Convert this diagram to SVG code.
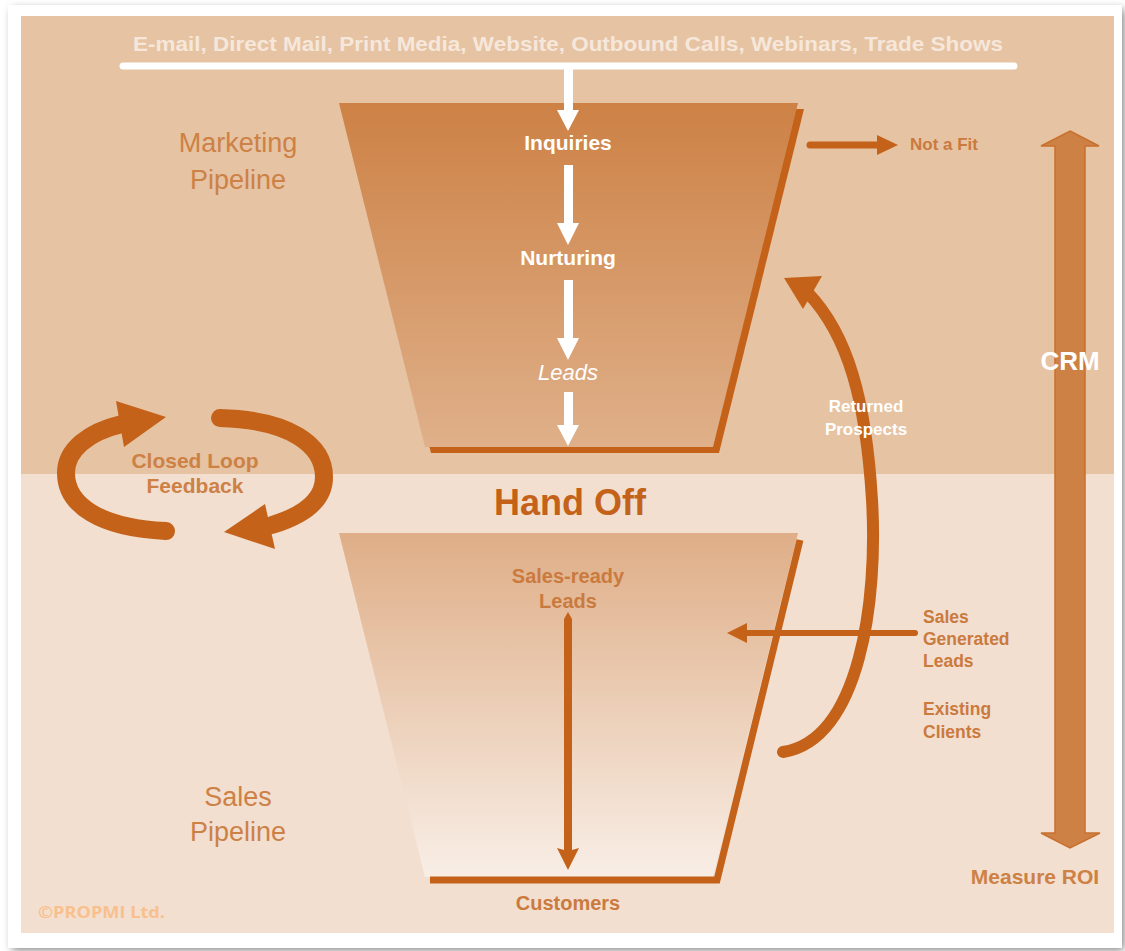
<svg xmlns="http://www.w3.org/2000/svg" width="1125" height="951" viewBox="0 0 1125 951">
  <defs>
    <linearGradient id="gTop" x1="0" y1="0" x2="0" y2="1">
      <stop offset="0" stop-color="#CD8145"/>
      <stop offset="1" stop-color="#DFB08A"/>
    </linearGradient>
    <linearGradient id="gBot" x1="0" y1="0" x2="0" y2="1">
      <stop offset="0" stop-color="#DFAE87"/>
      <stop offset="1" stop-color="#F8EEE6"/>
    </linearGradient>
    <filter id="sh" x="-5%" y="-5%" width="110%" height="110%">
      <feGaussianBlur stdDeviation="4"/>
    </filter>
    <style>
      .b { font-family: "Liberation Sans", Arial, sans-serif; font-weight: bold; }
      .r { font-family: "Liberation Sans", Arial, sans-serif; }
      .w { fill: #FFFFFF; }
      .o { fill: #CB7A3E; }
      .dk { fill: #C4621A; }
      .ln { stroke: #C4621A; fill: none; }
    </style>
  </defs>

  <!-- page -->
  <rect x="0" y="0" width="1125" height="951" fill="#FFFFFF"/>
  <rect x="12" y="9" width="1112" height="941" fill="#808080" filter="url(#sh)"/>
  <rect x="8" y="5" width="1114" height="943" fill="#FFFFFF"/>
  <rect x="21" y="16" width="1093" height="458" fill="#E6C3A3"/>
  <rect x="21" y="474" width="1093" height="459" fill="#F2DFD0"/>

  <!-- source channels -->
  <g id="sources">
    <text class="r" x="568" y="51" text-anchor="middle" font-size="21" fill="#F6E7DB" textLength="870" lengthAdjust="spacingAndGlyphs" style="font-weight:600">E-mail, Direct Mail, Print Media, Website, Outbound Calls, Webinars, Trade Shows</text>
    <line x1="123" y1="66" x2="1014" y2="66" stroke="#FFFFFF" stroke-width="7" stroke-linecap="round"/>
  </g>

  <!-- marketing funnel -->
  <g id="marketing-funnel">
    <polygon points="345,109 804,109 719,453 431,453" fill="#C4621A"/>
    <polygon points="339,103 798,103 713,447 425,447" fill="url(#gTop)"/>
    <text class="b w" x="568" y="150" text-anchor="middle" font-size="21">Inquiries</text>
    <text class="b w" x="568" y="265" text-anchor="middle" font-size="21">Nurturing</text>
    <text class="r w" x="568" y="380" text-anchor="middle" font-size="22" font-style="italic">Leads</text>
  </g>

  <g id="sales-funnel">
    <polygon points="339,533 798,533 713,877 425,877" fill="url(#gBot)"/>
    <polyline points="800,540 717,880 430,880" class="ln" stroke-width="7"/>
    <text class="b o" x="568" y="583" text-anchor="middle" font-size="20">Sales-ready</text>
    <text class="b o" x="568" y="608" text-anchor="middle" font-size="20">Leads</text>
    <text class="b o" x="568" y="910" text-anchor="middle" font-size="20">Customers</text>
  </g>

  <!-- connectors -->
  <g id="connectors">
    <!-- white flow arrows -->
    <g fill="#FFFFFF">
      <rect x="564" y="66" width="9" height="46"/>
      <polygon points="557,110 579,110 568,131"/>
      <rect x="564" y="165" width="9" height="60"/>
      <polygon points="557,223 579,223 568,245"/>
      <rect x="564" y="280" width="9" height="60"/>
      <polygon points="557,338 579,338 568,360"/>
      <rect x="564" y="392" width="9" height="35"/>
      <polygon points="557,425 579,425 568,446"/>
    </g>
    <!-- sales-ready to customers -->
    <polygon points="568,612 572,619 572,850 579,848 568,870 557,848 564,850 564,619" fill="#C4621A"/>
    <!-- not a fit -->
    <line x1="810" y1="145" x2="880" y2="145" class="ln" stroke-width="7" stroke-linecap="round"/>
    <polygon points="877,135 898,145 877,155" fill="#C4621A"/>
    <!-- sales generated leads -->
    <line x1="744" y1="633" x2="915" y2="633" class="ln" stroke-width="6" stroke-linecap="round"/>
    <polygon points="727,633 747,623 747,643" fill="#C4621A"/>
    <!-- returned prospects -->
    <path d="M 783,752 C 860,740 878,600 872,500 C 866,400 848,335 808,293" class="ln" stroke-width="12" stroke-linecap="round"/>
    <polygon points="784,278 822,276 803,309" fill="#C4621A"/>
    <!-- closed loop -->
    <path d="M 166,531 C 100,528 66,505 66,473 C 66,450 88,432 122,424" class="ln" stroke-width="18" stroke-linecap="round"/>
    <polygon points="116,401 124,447 166,417" fill="#C4621A"/>
    <path d="M 220,418 C 290,420 324,445 324,477 C 324,500 305,515 272,525" class="ln" stroke-width="18" stroke-linecap="round"/>
    <polygon points="265,504 275,549 224,532" fill="#C4621A"/>
  </g>

  <g id="labels">
    <text class="r" x="238" y="152" text-anchor="middle" font-size="27" fill="#CD8145">Marketing</text>
    <text class="r" x="238" y="189" text-anchor="middle" font-size="27" fill="#CD8145">Pipeline</text>
    <text class="r" x="238" y="806" text-anchor="middle" font-size="27" fill="#CD8145">Sales</text>
    <text class="r" x="238" y="841" text-anchor="middle" font-size="27" fill="#CD8145">Pipeline</text>
    <text class="b dk" x="570" y="515" text-anchor="middle" font-size="36">Hand Off</text>
    <text class="b" x="38" y="918" font-size="16" fill="#F9C08E" textLength="127" lengthAdjust="spacingAndGlyphs" style="font-family:'Open Sans','Liberation Sans',sans-serif">©PROPMI Ltd.</text>
  </g>

  <g id="not-a-fit">
    <text class="b o" x="910" y="150" font-size="17">Not a Fit</text>
  </g>

  <g id="closed-loop">
    <text class="b" x="195" y="468" text-anchor="middle" font-size="21" fill="#CD8145">Closed Loop</text>
    <text class="b" x="195" y="493" text-anchor="middle" font-size="21" fill="#CD8145">Feedback</text>
  </g>

  <g id="returned-prospects">
    <text class="b w" x="866" y="412" text-anchor="middle" font-size="17">Returned</text>
    <text class="b w" x="866" y="435" text-anchor="middle" font-size="17">Prospects</text>
  </g>

  <g id="sales-generated">
    <text class="b o" x="923" y="623" font-size="17.5">Sales</text>
    <text class="b o" x="923" y="645" font-size="17.5">Generated</text>
    <text class="b o" x="923" y="667" font-size="17.5">Leads</text>
    <text class="b o" x="923" y="715" font-size="17.5">Existing</text>
    <text class="b o" x="923" y="738" font-size="17.5">Clients</text>
  </g>

  <g id="crm">
    <polygon points="1070,131 1099,146 1085,146 1085,833 1100,833 1070,848 1041,833 1055,833 1055,146 1041,146" fill="#CD8145" stroke="#C8702E" stroke-width="1.5" stroke-linejoin="miter"/>
    <text class="b w" x="1070" y="370" text-anchor="middle" font-size="26">CRM</text>
    <text class="b" x="1035" y="884" text-anchor="middle" font-size="21" fill="#CD8145">Measure ROI</text>
  </g>
</svg>
